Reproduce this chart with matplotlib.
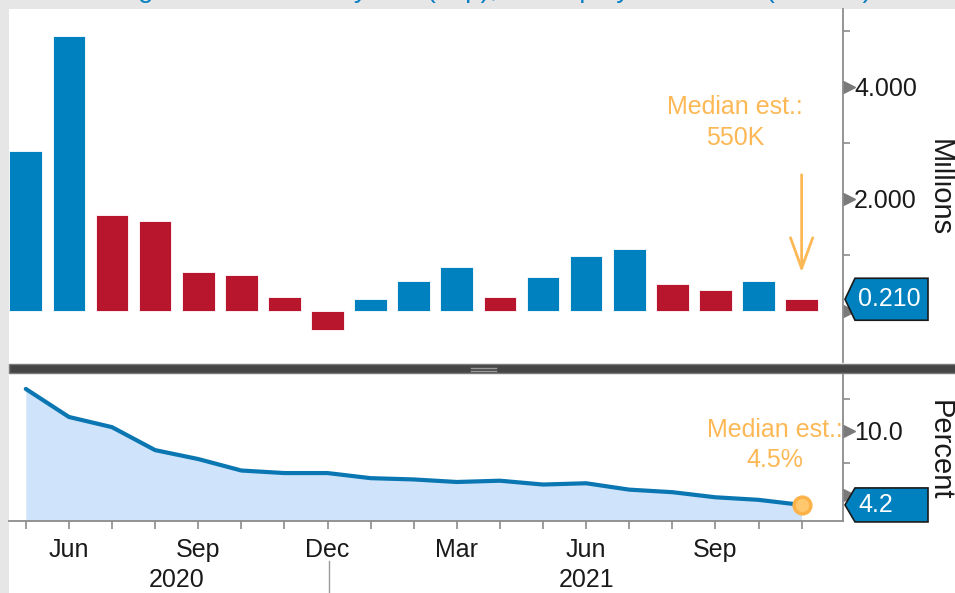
import matplotlib
matplotlib.use("Agg")
import matplotlib.pyplot as plt
from matplotlib.patches import Rectangle, Polygon

plt.rcParams["font.family"] = ["Liberation Sans", "DejaVu Sans"]

# monthly data, May 2020 .. Nov 2021
months = ["May", "Jun", "Jul", "Aug", "Sep", "Oct", "Nov", "Dec",
          "Jan", "Feb", "Mar", "Apr", "May", "Jun", "Jul", "Aug", "Sep", "Oct", "Nov"]
payrolls = [2.85, 4.90, 1.72, 1.60, 0.70, 0.64, 0.25, -0.34, 0.21, 0.53,
            0.78, 0.25, 0.61, 0.98, 1.10, 0.49, 0.37, 0.53, 0.21]
unemployment = [13.3, 11.1, 10.3, 8.5, 7.8, 6.9, 6.7, 6.7, 6.3, 6.2,
                6.0, 6.1, 5.8, 5.9, 5.4, 5.2, 4.8, 4.6, 4.2]
month_labels = {1: "Jun", 4: "Sep", 7: "Dec", 10: "Mar", 13: "Jun", 16: "Sep"}
year_labels = [(3.5, "2020"), (13.0, "2021")]

BLUE = "#0081bf"
RED = "#b8162d"
LINE = "#0a76b2"
FILL = "#cfe4fb"
ORANGE = "#fdb856"
GRAY = "#8c8c8c"
TXT = "#1a1a1a"

W, H = 955, 593
fig = plt.figure(figsize=(W / 100, H / 100), dpi=100)
fig.patch.set_facecolor("#e6e6e6")


def fx(px):
    return px / W


def fy(py):
    return 1 - py / H


# white chart area
fig.add_artist(Rectangle((fx(9), 0), 1, fy(9), transform=fig.transFigure,
                         facecolor="white", edgecolor="none", zorder=-10))

# title, mostly cut off by the top edge as in the original screenshot
fig.text(fx(72), 1 + 3 / H, "Change in Nonfarm Payrolls (Top), Unemployment Rate (Bottom)",
         color="#0a80c4", fontsize=20, va="baseline", ha="left")

ax1 = fig.add_axes([fx(9), fy(362), fx(843 - 9), (362 - 9) / H])
ax2 = fig.add_axes([fx(9), fy(521), fx(843 - 9), (521 - 374) / H])
x = list(range(len(months)))
xlim = (-0.39, 18.96)

# bar colours: blue when higher than prior month, red when lower
colors = [BLUE] + [BLUE if payrolls[i] > payrolls[i - 1] else RED for i in range(1, len(payrolls))]
ax1.bar(x, payrolls, width=0.76, color=colors, edgecolor="white", linewidth=0.6)
ax1.set_xlim(*xlim)
ax1.set_ylim(-0.91, 5.39)

ax2.plot(x, unemployment, color=LINE, lw=3, solid_capstyle="round")
ax2.fill_between(x, unemployment, 0, color=FILL, lw=0)
ax2.plot(x[-1], unemployment[-1], "o", ms=12, mfc="#ffc86e", mec="#fbb349", mew=2.5, zorder=5)
ax2.set_xlim(*xlim)
ax2.set_ylim(2.94, 14.47)

for ax in (ax1, ax2):
    ax.set_facecolor("none")
    for s in ("left", "top", "bottom"):
        ax.spines[s].set_visible(False)
    ax.spines["right"].set_color(GRAY)
    ax.spines["right"].set_linewidth(1.3)
    ax.yaxis.tick_right()
    ax.tick_params(axis="y", which="major", length=0, pad=8, labelsize=18, labelcolor=TXT)
    ax.tick_params(axis="y", which="minor", length=5, width=1.2, color=GRAY)

# the zero / 5.0 labels sit behind the last-value boxes, so leave them blank
ax1.set_xticks([])
ax1.set_yticks([0, 2, 4])
ax1.set_yticklabels(["", "2.000", "4.000"])
ax1.set_yticks([1, 3, 5], minor=True)
ax1.plot([1.007] * 3, [0, 2, 4], ">", color="#7a7a7a", ms=8, transform=ax1.get_yaxis_transform(), clip_on=False)

ax2.set_yticks([5, 10])
ax2.set_yticklabels(["", "10.0"])
ax2.set_yticks([7.5, 12.5], minor=True)
ax2.plot([1.007] * 2, [5, 10], ">", color="#7a7a7a", ms=8, transform=ax2.get_yaxis_transform(), clip_on=False)

ax2.spines["bottom"].set_visible(True)
ax2.spines["bottom"].set_color(GRAY)
ax2.spines["bottom"].set_linewidth(1.3)
ax2.set_xticks(x)
ax2.set_xticklabels([month_labels.get(i, "") for i in x])
ax2.tick_params(axis="x", length=6, width=1.2, color=GRAY, labelsize=18, labelcolor=TXT, pad=6)
for xp, lab in year_labels:
    ax2.text(xp, -0.40, lab, transform=ax2.get_xaxis_transform(), ha="center", va="center",
             fontsize=18, color=TXT)
ax2.plot([7.03, 7.03], [-0.27, -0.5], color="#9a9a9a", lw=1, transform=ax2.get_xaxis_transform(),
         clip_on=False)

# panel separator
fig.add_artist(Rectangle((fx(9), fy(373)), 1, 9 / H, transform=fig.transFigure,
                         facecolor="#454545", edgecolor="#7a7a7a", lw=1, zorder=3))
for dy in (367.5, 370.5):
    fig.add_artist(plt.Line2D([fx(471), fx(496)], [fy(dy), fy(dy)], color="#9a9a9a", lw=1,
                              transform=fig.transFigure, zorder=4))

# axis titles
fig.text(fx(940), fy(188), "Millions", rotation=-90, ha="center", va="center", fontsize=21, color=TXT)
fig.text(fx(940), fy(450), "Percent", rotation=-90, ha="center", va="center", fontsize=21, color=TXT)


# last-value boxes on the right axis
def value_box(ax, val, text, h):
    fig.canvas.draw()
    yd = ax.transData.transform((0, val))[1]
    yc = fig.transFigure.inverted().transform((0, yd))[1]
    hh = h / 2 / H
    pts = [(fx(845), yc), (fx(855), yc + hh), (fx(928), yc + hh), (fx(928), yc - hh), (fx(855), yc - hh)]
    fig.add_artist(Polygon(pts, closed=True, transform=fig.transFigure, facecolor="#0081bf",
                           edgecolor="#1a1a1a", lw=1.2, zorder=6))
    fig.text(fx(858), yc, text, color="white", fontsize=18, va="center", ha="left", zorder=7)


value_box(ax1, payrolls[-1], "0.210", 42)
value_box(ax2, unemployment[-1], "4.2", 34)

# median estimate annotations
ax1.text(16.45, 3.36, "Median est.:\n550K", color=ORANGE, fontsize=18, ha="center", va="center",
         linespacing=1.35)
ax1.annotate("", xy=(18, 0.64), xytext=(18, 2.48),
             arrowprops=dict(arrowstyle="->,head_length=2.2,head_width=0.8", color=ORANGE, lw=2))
ax2.text(17.38, 8.9, "Median est.:\n4.5%", color=ORANGE, fontsize=18, ha="center", va="center",
         linespacing=1.35)

fig.savefig("out.png", dpi=100, facecolor=fig.get_facecolor())
